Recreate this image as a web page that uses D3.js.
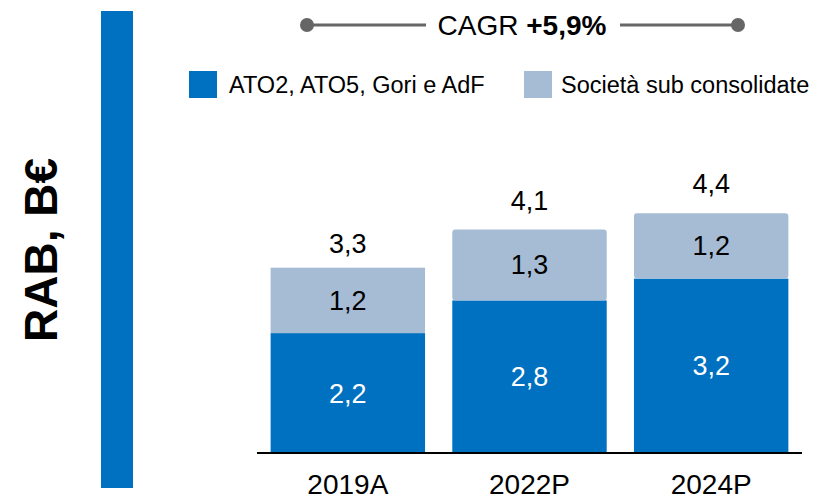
<!DOCTYPE html>
<html>
<head>
<meta charset="utf-8">
<script src="https://cdn.jsdelivr.net/npm/d3@7"></script>
<style>
  body { margin: 0; background: #fff; }
  text { font-family: "Liberation Sans", Arial, sans-serif; }
</style>
</head>
<body>
<div id="chart"></div>
<script>
// data
const years = ["2019A", "2022P", "2024P"];
const ato = [2.2, 2.8, 3.2];
const subConsolidate = [1.2, 1.3, 1.2];
const totals = [3.3, 4.1, 4.4];
const seriesNames = ["ATO2, ATO5, Gori e AdF", "Società sub consolidate"];
const fmt = v => v.toFixed(1).replace(".", ",");

const width = 817, height = 501;
const colors = ["#0070c0", "#a6bbd4"];

const svg = d3.select("#chart").append("svg")
  .attr("width", width)
  .attr("height", height);

const x = d3.scaleBand().domain(years).range([257, 802]).paddingInner(0.15).paddingOuter(0.075);
const y = d3.scaleLinear().domain([0, 5]).range([453, 180.5]);

const rows = years.map((yr, i) => ({ year: yr, a: ato[i], b: subConsolidate[i] }));
const stacked = d3.stack().keys(["a", "b"])(rows);

// left blue band + title
svg.append("rect")
  .attr("x", 101).attr("y", 11)
  .attr("width", 32).attr("height", 477)
  .attr("fill", "#0070c0");

svg.append("text")
  .attr("transform", "translate(57,250) rotate(-90)")
  .attr("text-anchor", "middle")
  .style("font-size", "46px")
  .style("font-weight", "bold")
  .text("RAB, B€");

// bars
stacked.forEach((layer, k) => {
  svg.append("g").selectAll("rect")
    .data(layer)
    .enter()
    .append("rect")
    .attr("x", d => x(d.data.year))
    .attr("y", d => y(d[1]))
    .attr("width", x.bandwidth())
    .attr("height", d => y(d[0]) - y(d[1]))
    .attr("rx", (d, i) => (k === 1 && i > 0) ? 3 : 0)
    .attr("fill", colors[k]);

  svg.append("g").selectAll("text")
    .data(layer)
    .enter()
    .append("text")
    .attr("x", d => x(d.data.year) + x.bandwidth() / 2)
    .attr("y", d => (y(d[0]) + y(d[1])) / 2)
    .attr("dy", "0.35em")
    .attr("text-anchor", "middle")
    .attr("fill", k === 0 ? "#fff" : "#000")
    .style("font-size", "27px")
    .text(d => fmt(d[1] - d[0]));
});

// totals
svg.append("g").selectAll("text")
  .data(years)
  .enter()
  .append("text")
  .attr("x", d => x(d) + x.bandwidth() / 2)
  .attr("y", (d, i) => y(totals[i]) - 20)
  .attr("text-anchor", "middle")
  .style("font-size", "27px")
  .text((d, i) => fmt(totals[i]));

// baseline axis
svg.append("line")
  .attr("x1", 257).attr("x2", 802)
  .attr("y1", y(0)).attr("y2", y(0))
  .attr("stroke", "#000").attr("stroke-width", 2);

svg.append("g").selectAll("text")
  .data(years)
  .enter()
  .append("text")
  .attr("x", d => x(d) + x.bandwidth() / 2)
  .attr("y", 494)
  .attr("text-anchor", "middle")
  .style("font-size", "28px")
  .text(d => d);

// legend
const legend = svg.append("g");
[[189, 229], [524, 561]].forEach((p, i) => {
  legend.append("rect")
    .attr("x", p[0]).attr("y", 71)
    .attr("width", 28).attr("height", 27)
    .attr("fill", colors[i]);
  legend.append("text")
    .attr("x", p[1]).attr("y", 85)
    .attr("dy", "0.35em")
    .style("font-size", "23.5px")
    .text(seriesNames[i]);
});

// CAGR bracket
const cagr = svg.append("g");
cagr.append("line").attr("x1", 307).attr("x2", 426).attr("y1", 25).attr("y2", 25)
  .attr("stroke", "#666").attr("stroke-width", 3);
cagr.append("line").attr("x1", 620).attr("x2", 738).attr("y1", 25).attr("y2", 25)
  .attr("stroke", "#666").attr("stroke-width", 3);
cagr.selectAll("circle").data([307, 738]).enter().append("circle")
  .attr("cx", d => d).attr("cy", 25).attr("r", 7).attr("fill", "#666");
const ct = cagr.append("text")
  .attr("x", 522).attr("y", 35)
  .attr("text-anchor", "middle")
  .style("font-size", "28px");
ct.append("tspan").text("CAGR ");
ct.append("tspan").style("font-weight", "bold").text("+5,9%");
</script>
</body>
</html>
